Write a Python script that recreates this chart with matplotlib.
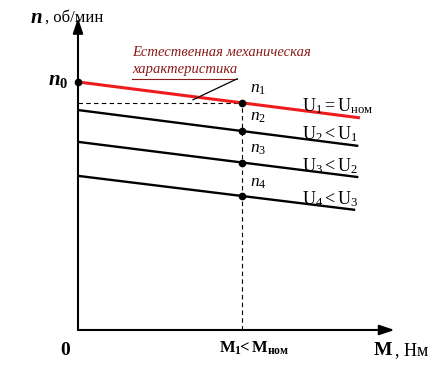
import numpy as np
import matplotlib
matplotlib.use("Agg")
import matplotlib.pyplot as plt

plt.rcParams['font.family'] = ['Liberation Serif', 'DejaVu Serif']
plt.rcParams['mathtext.fontset'] = 'custom'
plt.rcParams['mathtext.rm'] = 'Liberation Serif'
plt.rcParams['mathtext.it'] = 'Liberation Serif:italic'
plt.rcParams['mathtext.bf'] = 'Liberation Serif:bold'
plt.rcParams['mathtext.bfit'] = 'Liberation Serif:italic:bold'

# characteristics: n at M = 0, n at M1, line end
m_one = 5.2
m_end = [8.95, 8.9, 8.9, 8.8]
n_start = [7.95, 7.05, 6.03, 4.94]
n_at_m1 = [7.28, 6.38, 5.35, 4.29]
n_end = [6.8, 5.9, 4.9, 3.85]
point_labels = ["$n_1$", "$n_2$", "$n_3$", "$n_4$"]
u_labels = ["$\\mathrm{U_1 = U_{ном}}$", "$\\mathrm{U_2 < U_1}$",
            "$\\mathrm{U_3 < U_2}$", "$\\mathrm{U_4 < U_3}$"]
line_colors = ["#ee1c1c", "black", "black", "black"]

fig = plt.figure(figsize=(4.36, 3.67), dpi=100)
ax = fig.add_axes([0, 0, 1, 1])
ax.set_xlim(-2.476, 11.365)
ax.set_ylim(-1.186, 10.577)
ax.axis("off")

# axes with arrows
ax.annotate("", xy=(10.05, 0), xytext=(0, 0),
            arrowprops=dict(arrowstyle="-|>,head_length=0.9,head_width=0.3",
                            color="black", lw=1.5, shrinkA=0, shrinkB=0))
ax.annotate("", xy=(0, 10.0), xytext=(0, 0),
            arrowprops=dict(arrowstyle="-|>,head_length=0.9,head_width=0.3",
                            color="black", lw=1.5, shrinkA=0, shrinkB=0))

# dashed guides
ax.plot([m_one, m_one], [0, n_at_m1[0]], color="black", lw=0.8, ls=(0, (4, 3)))
ax.plot([0, m_one], [n_at_m1[0], n_at_m1[0]], color="black", lw=0.8, ls=(0, (4, 3)))

for i in range(4):
    ax.plot([0, m_end[i]], [n_start[i], n_end[i]], color=line_colors[i],
            lw=2.2 if i == 0 else 1.7, solid_capstyle="butt")
    ax.plot(m_one, n_at_m1[i], "o", color="black", ms=4.5)
    ax.text(m_one + 0.25, n_at_m1[i] + 0.18, point_labels[i], fontsize=12.5,
            ha="left", va="bottom")
    ax.text(7.1, n_at_m1[i] - 0.1, u_labels[i], fontsize=13, ha="left", va="center")

ax.plot(0, n_start[0], "o", color="black", ms=4.5)

# axis labels
ax.text(-0.3, n_start[0] + 0.05, "$\\mathbfit{n}_\\mathbf{0}$", fontsize=15,
        ha="right", va="center")
ax.text(-1.5, 10.0, "n", fontsize=15, fontweight="bold", style="italic",
        ha="left", va="center")
ax.text(-1.05, 10.0, ", об/мин", fontsize=12, ha="left", va="center")
ax.text(-0.4, -0.65, "0", fontsize=14, fontweight="bold", ha="center", va="center")
ax.text(m_one + 0.4, -0.6, "$\\mathbf{M_1\\!\\!< M_{ном}}$", fontsize=12,
        ha="center", va="center")
ax.text(9.4, -0.65, "M", fontsize=14, fontweight="bold", ha="left", va="center")
ax.text(10.05, -0.65, ", Нм", fontsize=13, ha="left", va="center")

# natural characteristic label with leader
red_dark = "#8b1a1a"
ax.text(1.73, 8.9, "Естественная механическая", fontsize=10.5, style="italic",
        color=red_dark, ha="left", va="center")
ax.text(1.73, 8.35, "характеристика", fontsize=10.5, style="italic",
        color=red_dark, ha="left", va="center")
ax.plot([1.73, 5.05], [8.05, 8.05], color=red_dark, lw=0.8)
ax.plot([5.05, 3.65], [8.05, 7.38], color="black", lw=0.9)

fig.savefig("out.png", dpi=100)
